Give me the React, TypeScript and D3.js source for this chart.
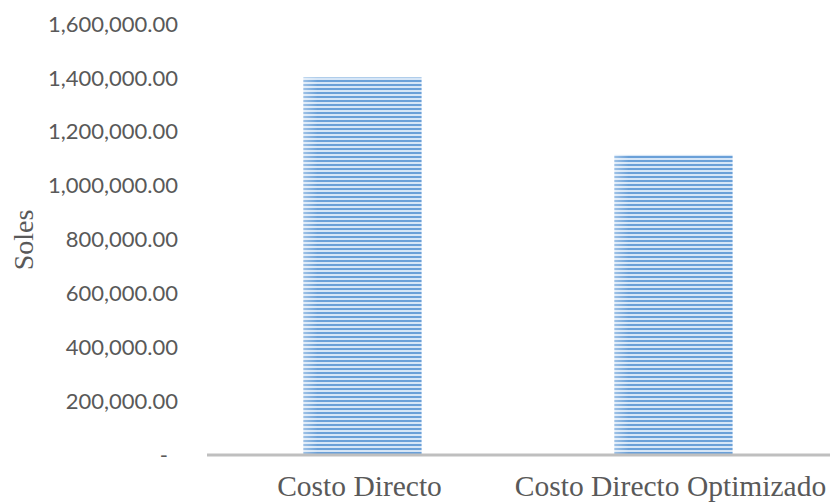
import React from "react";
import * as d3 from "d3";

// Direct cost comparison (in Soles)
const categories: string[] = ["Costo Directo", "Costo Directo Optimizado"];
const costValues: number[] = [1401500, 1114200];
const yTickValues: number[] = [0, 200000, 400000, 600000, 800000, 1000000, 1200000, 1400000, 1600000];
const yAxisTitle = "Soles";

const WIDTH = 830;
const HEIGHT = 502;

const fmt = d3.format(",.2f");
const tickLabel = (v: number) => (v === 0 ? "-" : fmt(v));

export default function App() {
  const x = d3
    .scaleBand<string>()
    .domain(categories)
    .range([207, 829])
    .paddingInner(0.62)
    .paddingOuter(0.31);

  const y = d3.scaleLinear().domain([0, 1600000]).range([455, 24]);

  const grey = "#595959";

  return (
    <svg
      width={WIDTH}
      height={HEIGHT}
      style={{ position: "absolute", left: 0, top: 0, background: "#fff" }}
    >
      <defs>
        <pattern id="hstripes" width={8} height={4} patternUnits="userSpaceOnUse">
          <rect x={0} y={0} width={8} height={4} fill="#d6e6f7" />
          <rect x={0} y={0} width={8} height={2} fill="#6aa0d8" />
        </pattern>
        <linearGradient id="edgeFade" x1="0" x2="1" y1="0" y2="0">
          <stop offset="0" stopColor="#ffffff" stopOpacity={0.35} />
          <stop offset="0.12" stopColor="#ffffff" stopOpacity={0} />
        </linearGradient>
      </defs>

      {/* Y tick labels */}
      <g fontFamily="Lato, sans-serif" fontSize={22} fill={grey}>
        {yTickValues.map((v) => (
          <text
            key={v}
            x={v === 0 ? 168 : 178}
            y={y(v)}
            dy="0.35em"
            textAnchor="end"
          >
            {tickLabel(v)}
          </text>
        ))}
      </g>

      {/* Y axis title */}
      <text
        transform={`translate(33,240) rotate(-90)`}
        textAnchor="middle"
        fontFamily="'Liberation Serif', 'Times New Roman', serif"
        fontSize={28}
        fill={grey}
      >
        {yAxisTitle}
      </text>

      {/* Bars */}
      <g>
        {categories.map((c, i) => (
          <g key={c}>
            <rect
              x={x(c)}
              y={y(costValues[i])}
              width={x.bandwidth()}
              height={y(0) - y(costValues[i])}
              fill="url(#hstripes)"
            />
            <rect
              x={x(c)}
              y={y(costValues[i])}
              width={x.bandwidth()}
              height={y(0) - y(costValues[i])}
              fill="url(#edgeFade)"
            />
          </g>
        ))}
      </g>

      {/* Category axis line */}
      <line
        x1={x.range()[0]}
        x2={WIDTH}
        y1={y(0)}
        y2={y(0)}
        stroke="#bfbfbf"
        strokeWidth={3}
      />

      {/* Category labels */}
      <g
        fontFamily="'Liberation Serif', 'Times New Roman', serif"
        fontSize={29.5}
        fill={grey}
        textAnchor="middle"
      >
        {categories.map((c) => (
          <text key={c} x={(x(c) as number) + x.bandwidth() / 2} dx={-3} y={496}>
            {c}
          </text>
        ))}
      </g>
    </svg>
  );
}
